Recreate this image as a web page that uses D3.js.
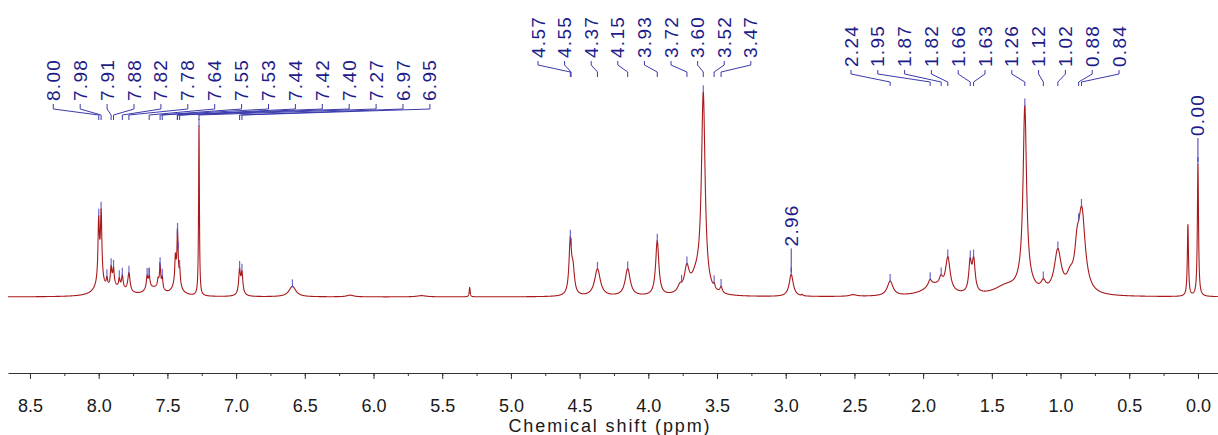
<!DOCTYPE html>
<html><head><meta charset="utf-8">
<script src="https://cdn.jsdelivr.net/npm/d3@7"></script>
<style>
html,body{margin:0;padding:0;background:#fff;}
svg{display:block;}
text{font-family:"Liberation Sans",Arial,sans-serif;}
</style></head><body>
<svg id="chart" width="1218" height="435"></svg>
<script>
// 1H resonances: shift (ppm), amplitude (relative, 100 = strongest line), half-width (ppm)
const peakShifts = [
  8.000, 7.982, 7.99, 7.99, 7.940, 7.910, 7.892, 7.90, 7.850, 7.828, 7.780, 7.85,
  7.648, 7.632, 7.64, 7.568, 7.553, 7.537, 7.555, 7.60, 7.442, 7.426, 7.410, 7.43, 7.43,
  7.270, 6.975, 6.957, 6.966, 6.59, 6.17, 5.65, 5.300,
  4.568, 4.548, 4.37, 4.15, 3.935, 3.77, 3.72, 3.65, 3.600, 3.520, 3.470, 2.960, 2.88,
  2.51, 2.240, 1.92, 1.950, 1.870, 1.820, 1.658, 1.632, 1.40, 1.260, 1.26,
  1.125, 1.020, 0.93, 0.880, 0.845, 0.073, 0.000
];
const peakAmplitudes = [
  27, 30, 6, 3, 4, 8, 7, 3, 4, 6, 9, 3,
  5, 4.5, 2.5, 3, 9, 5, 3, 3, 11, 21, 6, 6, 3,
  81, 10, 8.5, 3, 5, 0.8, 0.6, 4.5,
  25, 11, 13, 13, 26, 3, 11, 8, 93, 2, 3, 10.5, 0.6,
  0.8, 7, 5, 3, 4, 16, 14, 15, 4, 83, 6,
  4, 20, 6, 14, 38, 34, 63
];
const peakHalfWidths = [
  0.006, 0.006, 0.02, 0.06, 0.006, 0.006, 0.006, 0.02, 0.006, 0.007, 0.01, 0.07,
  0.006, 0.006, 0.02, 0.005, 0.005, 0.005, 0.02, 0.06, 0.005, 0.005, 0.005, 0.02, 0.04,
  0.0035, 0.007, 0.007, 0.02, 0.03, 0.03, 0.04, 0.004,
  0.011, 0.013, 0.025, 0.022, 0.014, 0.02, 0.02, 0.05, 0.016, 0.006, 0.01, 0.018, 0.005,
  0.03, 0.025, 0.09, 0.015, 0.015, 0.02, 0.012, 0.013, 0.1, 0.015, 0.06,
  0.02, 0.03, 0.03, 0.02, 0.03, 0.005, 0.005
];

// Peak-pick labels, three fanned groups plus two stand-alone labels
const labelsAromatic = ["8.00","7.98","7.91","7.88","7.82","7.78","7.64","7.55","7.53","7.44","7.42","7.40","7.27","6.97","6.95"];
const labelsMiddle = ["4.57","4.55","4.37","4.15","3.93","3.72","3.60","3.52","3.47"];
const labelsAliphatic = ["2.24","1.95","1.87","1.82","1.66","1.63","1.26","1.12","1.02","0.88","0.84"];
const labelsSingle = ["2.96","0.00"];
// extra picked maxima marked on the trace without a label
const extraPicks = [7.94, 7.85, 7.648, 7.632, 7.568, 7.41, 6.59, 3.77];

const axisTicks = [8.5,8.0,7.5,7.0,6.5,6.0,5.5,5.0,4.5,4.0,3.5,3.0,2.5,2.0,1.5,1.0,0.5,0.0];
const axisTitle = "Chemical shift (ppm)";

const svg = d3.select("#chart");
const x = d3.scaleLinear().domain([8.66, -0.146]).range([8, 1218]);
const y = d3.scaleLinear().domain([0, 100]).range([297, 87]);

function intensity(ppm) {
  let s = 0;
  for (let i = 0; i < peakShifts.length; i++) {
    const d = ppm - peakShifts[i], w = peakHalfWidths[i];
    s += peakAmplitudes[i] * w * w / (d * d + w * w);
  }
  return s;
}

const samples = d3.range(8.66, -0.146, -0.0005).map(p => [p, intensity(p)]);

const red = "#a8191c", navy = "#1c1c8a", lead = "#3a3aac";

svg.append("path")
  .datum(samples)
  .attr("fill", "none")
  .attr("stroke", red)
  .attr("stroke-width", 1.1)
  .attr("stroke-linejoin", "round")
  .attr("d", d3.line().x(d => x(d[0])).y(d => y(d[1])));

// peak markers on the maxima
const picks = labelsAromatic.concat(labelsMiddle, labelsAliphatic, labelsSingle).map(Number);
// labelled shifts are rounded; snap each marker to the nearest local max within 0.012 ppm
function snap(p) {
  let best = p, bv = intensity(p);
  for (let q = p - 0.012; q <= p + 0.012; q += 0.0005) {
    const v = intensity(q);
    if (v > bv) { bv = v; best = q; }
  }
  return best;
}
const markerShifts = picks.concat(extraPicks).map(snap);
svg.append("g").selectAll("line").data(markerShifts).join("line")
  .attr("x1", d => x(d)).attr("x2", d => x(d))
  .attr("y1", d => y(intensity(d)) - 7).attr("y2", d => y(intensity(d)) + 1)
  .attr("stroke", "#5050c0").attr("stroke-width", 1.2).attr("opacity", 0.85);

// fanned label groups
function fan(labels, x0, step, textBottom, y1, y2, y3, y4) {
  const g = svg.append("g");
  labels.forEach((t, i) => {
    const lx = x0 + i * step, px = x(snap(+t));
    g.append("path")
      .attr("d", `M${lx},${y1}V${y2}L${px},${y3}V${y4}`)
      .attr("fill", "none").attr("stroke", lead).attr("stroke-width", 1);
    g.append("text")
      .attr("transform", `translate(${lx},${textBottom}) rotate(-90)`)
      .attr("dominant-baseline", "central")
      .attr("font-size", 19).attr("letter-spacing", 1.3)
      .attr("fill", navy).text(t);
  });
}
fan(labelsAromatic, 53.3, 26.9, 101, 104, 109, 115, 120);
fan(labelsMiddle, 538, 26.6, 58, 61, 65, 72, 77);
fan(labelsAliphatic, 851, 26.8, 67, 70, 74, 82, 86);

// stand-alone labels directly above their lines
labelsSingle.forEach(t => {
  const p = snap(+t), px = x(p), top = y(intensity(p));
  const tb = top - 28;
  svg.append("line").attr("x1", px).attr("x2", px).attr("y1", tb + 2).attr("y2", top - 2)
    .attr("stroke", lead).attr("stroke-width", 1);
  svg.append("text")
    .attr("transform", `translate(${px},${tb}) rotate(-90)`)
    .attr("dominant-baseline", "central")
    .attr("font-size", 19).attr("letter-spacing", 1.3)
    .attr("fill", navy).text(t);
});

// x axis (ppm decreasing to the right)
const axisY = 373;
const minor = d3.range(8.75, -0.01, -0.25).filter(v => v <= 8.66);
const gMinor = svg.append("g").attr("transform", `translate(0,${axisY})`)
  .call(d3.axisBottom(x).tickValues(minor).tickSize(3).tickFormat(""));
gMinor.select(".domain").remove();
const gAxis = svg.append("g").attr("transform", `translate(0,${axisY})`)
  .call(d3.axisBottom(x).tickValues(axisTicks).tickSize(6).tickSizeOuter(0).tickFormat(d3.format(".1f")));
svg.selectAll(".tick line").attr("stroke", "#333");
gAxis.select(".domain").attr("stroke", "#333");
gAxis.selectAll("text").attr("y", 0).attr("dy", null).attr("transform", "translate(0,39)")
  .attr("font-size", 18).attr("fill", "#1a1a1a").style("font-family", '"Liberation Sans",Arial,sans-serif');

svg.append("text").attr("x", 610).attr("y", 432).attr("text-anchor", "middle")
  .attr("font-size", 18).attr("letter-spacing", 1.9).attr("fill", "#1a1a1a").text(axisTitle);
</script>
</body></html>
